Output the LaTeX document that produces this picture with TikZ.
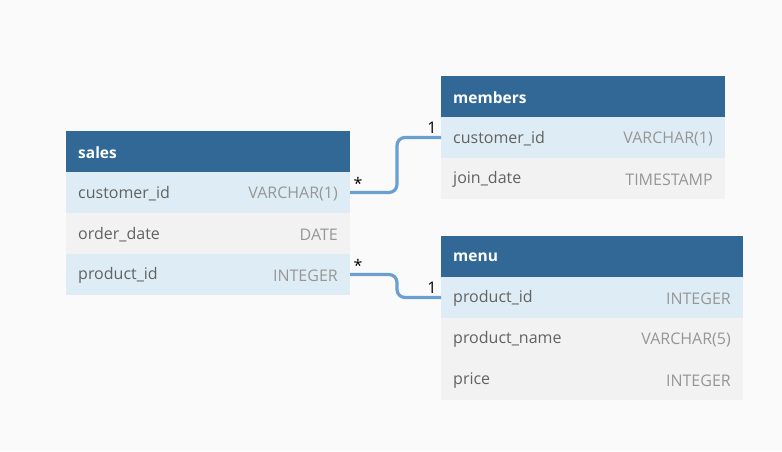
\documentclass[tikz,border=0pt]{standalone}
\usepackage{fontspec}
\setmainfont{Open Sans}
\definecolor{bgc}{HTML}{FAFAFA}
\definecolor{hdrc}{HTML}{316896}
\definecolor{rowb}{HTML}{DEEDF5}
\definecolor{rowg}{HTML}{F2F2F2}
\definecolor{namec}{HTML}{626262}
\definecolor{typec}{HTML}{969696}
\definecolor{connc}{HTML}{6A9FD1}
\tikzset{
  cell/.style={anchor=north west, inner sep=0pt, outer sep=0pt, minimum height=41pt, draw=none},
  hdr/.style={cell, fill=hdrc},
  rb/.style={cell, fill=rowb},
  rg/.style={cell, fill=rowg},
  htxt/.style={anchor=west, inner sep=0pt, text=white, font=\fontsize{15.5}{17}\selectfont\bfseries},
  ntxt/.style={anchor=west, inner sep=0pt, text=namec, font=\fontsize{16}{18}\selectfont},
  ttxt/.style={anchor=east, inner sep=0pt, text=typec, font=\fontsize{16}{18}\selectfont},
  conn/.style={draw=connc, line width=3.2pt, rounded corners=8pt},
  card/.style={inner sep=0pt, text=black, font=\fontsize{16}{18}\selectfont}
}
\begin{document}
\begin{tikzpicture}[x=1pt,y=-1pt]
\fill[bgc] (0,0) rectangle (782,451);
\useasboundingbox (0,0) rectangle (782,451);
% sales
\node[hdr, minimum width=284pt] (sh) at (66,131) {};
\node[rb, minimum width=284pt] (s1) at (66,172) {};
\node[rg, minimum width=284pt] (s2) at (66,213) {};
\node[rb, minimum width=284pt] (s3) at (66,254) {};
\node[htxt] (sht) at ([xshift=12pt,yshift=-1pt]sh.west) {sales};
\node[ntxt] (s1n) at ([xshift=12pt,yshift=-1pt]s1.west) {customer\_id};
\node[ttxt] (s1t) at ([xshift=-12pt,yshift=-1pt]s1.east) {VARCHAR(1)};
\node[ntxt] (s2n) at ([xshift=12pt,yshift=-1pt]s2.west) {order\_date};
\node[ttxt] (s2t) at ([xshift=-12pt,yshift=-1pt]s2.east) {DATE};
\node[ntxt] (s3n) at ([xshift=12pt,yshift=-1pt]s3.west) {product\_id};
\node[ttxt] (s3t) at ([xshift=-12pt,yshift=-1pt]s3.east) {INTEGER};
% members
\node[hdr, minimum width=284pt] (mh) at (441,76) {};
\node[rb, minimum width=284pt] (m1) at (441,117) {};
\node[rg, minimum width=284pt] (m2) at (441,158) {};
\node[htxt] (mht) at ([xshift=12pt,yshift=-1pt]mh.west) {members};
\node[ntxt] (m1n) at ([xshift=12pt,yshift=-1pt]m1.west) {customer\_id};
\node[ttxt] (m1t) at ([xshift=-12pt,yshift=-1pt]m1.east) {VARCHAR(1)};
\node[ntxt] (m2n) at ([xshift=12pt,yshift=-1pt]m2.west) {join\_date};
\node[ttxt] (m2t) at ([xshift=-12pt,yshift=-1pt]m2.east) {TIMESTAMP};
% menu
\node[hdr, minimum width=302pt] (uh) at (441,236) {};
\node[rb, minimum width=302pt] (u1) at (441,277) {};
\node[rg, minimum width=302pt] (u2) at (441,318) {};
\node[rg, minimum width=302pt] (u3) at (441,359) {};
\node[htxt] (uht) at ([xshift=12pt,yshift=-1pt]uh.west) {menu};
\node[ntxt] (u1n) at ([xshift=12pt,yshift=-1pt]u1.west) {product\_id};
\node[ttxt] (u1t) at ([xshift=-12pt,yshift=-1pt]u1.east) {INTEGER};
\node[ntxt] (u2n) at ([xshift=12pt,yshift=-1pt]u2.west) {product\_name};
\node[ttxt] (u2t) at ([xshift=-12pt,yshift=-1pt]u2.east) {VARCHAR(5)};
\node[ntxt] (u3n) at ([xshift=12pt,yshift=-1pt]u3.west) {price};
\node[ttxt] (u3t) at ([xshift=-12pt,yshift=-1pt]u3.east) {INTEGER};
% connectors
\draw[conn] (s1.east) -- ++(47,0) |- (m1.west);
\draw[conn] (s3.east) -- ++(47,0) |- (u1.west);
\node[card] (c1a) at ([xshift=8pt,yshift=9pt]s1.east) {*};
\node[card] (c1b) at ([xshift=-9pt,yshift=10pt]m1.west) {1};
\node[card] (c2a) at ([xshift=8pt,yshift=9pt]s3.east) {*};
\node[card] (c2b) at ([xshift=-9pt,yshift=10pt]u1.west) {1};
\end{tikzpicture}
\end{document}
